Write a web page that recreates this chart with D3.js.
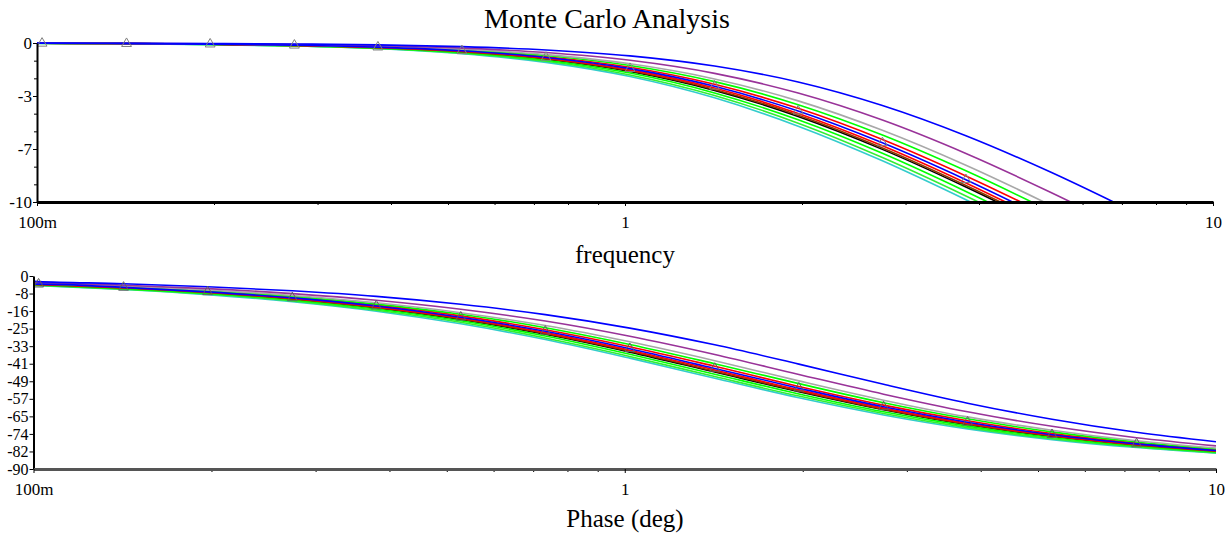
<!DOCTYPE html>
<html>
<head>
<meta charset="utf-8">
<script src="https://cdn.jsdelivr.net/npm/d3@7/dist/d3.min.js"></script>
<style>
  body { margin: 0; background: #fff; }
  text { font-family: "Liberation Serif", "Times New Roman", serif; fill: #000; }
</style>
</head>
<body>
<div id="plot"></div>
<script>
// sample frequencies (Hz), the same for every run
const freqs = [0.1, 0.102, 0.142, 0.197, 0.274, 0.380, 0.528, 0.734, 1.02, 1.42, 1.97, 2.74, 3.80, 5.28, 7.34, 10];

// magnitude (dB) per Monte Carlo run
const magBlueHi   = [-0.01, -0.01, -0.02, -0.03, -0.06, -0.12, -0.23, -0.44, -0.81, -1.45, -2.45, -3.93, -5.83, -8.10, -10.63, -13.13];
const magPurple   = [-0.01, -0.01, -0.02, -0.05, -0.09, -0.17, -0.32, -0.60, -1.09, -1.91, -3.15, -4.85, -6.95, -9.37, -11.98, -14.54];
const magGray     = [-0.01, -0.02, -0.03, -0.06, -0.11, -0.21, -0.39, -0.73, -1.31, -2.26, -3.64, -5.49, -7.69, -10.18, -12.84, -15.42];
const magGreenHi  = [-0.02, -0.02, -0.03, -0.06, -0.12, -0.23, -0.43, -0.79, -1.42, -2.43, -3.88, -5.79, -8.04, -10.56, -13.23, -15.82];
const magRedHi    = [-0.02, -0.02, -0.04, -0.07, -0.13, -0.25, -0.47, -0.86, -1.53, -2.60, -4.11, -6.07, -8.36, -10.90, -13.59, -16.19];
const magBlueNom  = [-0.02, -0.02, -0.04, -0.07, -0.14, -0.26, -0.49, -0.91, -1.61, -2.72, -4.28, -6.28, -8.60, -11.16, -13.86, -16.46];
const magRedLo    = [-0.02, -0.02, -0.04, -0.08, -0.15, -0.28, -0.52, -0.96, -1.69, -2.83, -4.43, -6.46, -8.80, -11.38, -14.08, -16.69];
const magBrown    = [-0.02, -0.02, -0.04, -0.08, -0.15, -0.29, -0.54, -0.99, -1.75, -2.92, -4.54, -6.60, -8.96, -11.54, -14.25, -16.86];
const magBlack    = [-0.02, -0.02, -0.04, -0.08, -0.16, -0.30, -0.56, -1.02, -1.79, -2.98, -4.62, -6.69, -9.06, -11.65, -14.37, -16.98];
const magGreenMid = [-0.02, -0.02, -0.05, -0.09, -0.17, -0.32, -0.59, -1.08, -1.89, -3.14, -4.83, -6.94, -9.34, -11.94, -14.67, -17.28];
const magGreenLo  = [-0.02, -0.03, -0.05, -0.09, -0.18, -0.34, -0.64, -1.15, -2.01, -3.30, -5.04, -7.20, -9.62, -12.24, -14.98, -17.60];
const magCyan     = [-0.03, -0.03, -0.05, -0.10, -0.19, -0.36, -0.67, -1.22, -2.11, -3.45, -5.23, -7.41, -9.86, -12.49, -15.23, -17.86];

// phase (deg) per Monte Carlo run
const phaseBlueHi   = [-2.5, -2.6, -3.6, -5.0, -6.9, -9.5, -13.2, -18.0, -24.3, -32.1, -41.1, -50.5, -59.3, -66.8, -72.9, -77.3];
const phasePurple   = [-3.0, -3.1, -4.3, -5.9, -8.2, -11.3, -15.5, -21.0, -28.1, -36.6, -45.9, -55.1, -63.3, -70.1, -75.4, -79.2];
const phaseGray     = [-3.3, -3.4, -4.7, -6.5, -9.1, -12.5, -17.1, -23.1, -30.7, -39.5, -48.9, -57.9, -65.7, -71.9, -76.8, -80.2];
const phaseGreenHi  = [-3.5, -3.6, -5.0, -6.9, -9.5, -13.1, -17.8, -24.1, -31.9, -40.9, -50.2, -59.1, -66.6, -72.7, -77.4, -80.7];
const phaseRedHi    = [-3.6, -3.7, -5.2, -7.2, -9.9, -13.6, -18.6, -25.1, -33.0, -42.1, -51.5, -60.2, -67.5, -73.5, -77.9, -81.1];
const phaseBlueNom  = [-3.8, -3.8, -5.3, -7.4, -10.2, -14.0, -19.2, -25.8, -33.9, -43.1, -52.3, -61.0, -68.2, -74.0, -78.3, -81.4];
const phaseRedLo    = [-3.9, -3.9, -5.5, -7.6, -10.5, -14.4, -19.6, -26.4, -34.6, -43.8, -53.1, -61.6, -68.7, -74.3, -78.6, -81.6];
const phaseBrown    = [-3.9, -4.0, -5.6, -7.7, -10.7, -14.7, -20.0, -26.8, -35.1, -44.4, -53.6, -62.1, -69.1, -74.6, -78.8, -81.7];
const phaseBlack    = [-4.0, -4.1, -5.7, -7.8, -10.9, -14.9, -20.3, -27.2, -35.5, -44.8, -54.0, -62.4, -69.4, -74.8, -79.0, -81.9];
const phaseGreenMid = [-4.1, -4.2, -5.9, -8.1, -11.2, -15.4, -20.9, -28.0, -36.5, -45.8, -55.0, -63.3, -70.0, -75.3, -79.3, -82.1];
const phaseGreenLo  = [-4.3, -4.4, -6.1, -8.4, -11.6, -16.0, -21.6, -28.9, -37.5, -46.9, -56.0, -64.1, -70.7, -75.9, -79.7, -82.4];
const phaseCyan     = [-4.4, -4.5, -6.3, -8.7, -12.0, -16.4, -22.3, -29.6, -38.3, -47.7, -56.8, -64.8, -71.3, -76.3, -80.0, -82.6];

// tick labels
const xTickValues = [0.1, 1, 10];
const xTickLabels = ["100m", "1", "10"];
const magTickLabels = ["-10", "-7", "-3", "0"];
const phaseTickLabels = ["-90", "-82", "-74", "-65", "-57", "-49", "-41", "-33", "-25", "-16", "-8", "0"];

const w = 1225;
const h = 535;
const serif = '"Liberation Serif", "Times New Roman", serif';

const series = [
  {color: "#000000", mag: magBlack, phase: phaseBlack},
  {color: "#33cccc", mag: magCyan, phase: phaseCyan},
  {color: "#33ee33", mag: magGreenLo, phase: phaseGreenLo},
  {color: "#00ff00", mag: magGreenMid, phase: phaseGreenMid},
  {color: "#8b3a00", mag: magBrown, phase: phaseBrown},
  {color: "#ff0000", mag: magRedLo, phase: phaseRedLo},
  {color: "#ff0000", mag: magRedHi, phase: phaseRedHi},
  {color: "#00ff00", mag: magGreenHi, phase: phaseGreenHi},
  {color: "#a8a8a8", mag: magGray, phase: phaseGray},
  {color: "#993399", mag: magPurple, phase: phasePurple},
  {color: "#0000ff", mag: magBlueHi, phase: phaseBlueHi},
  {color: "#0000ff", mag: magBlueNom, phase: phaseBlueNom, marks: true}
];

const xMinor = [];
[0.1, 1].forEach(dec => d3.range(2, 10).forEach(k => xMinor.push(dec * k)));

const svg = d3.select("#plot")
    .append("svg")
    .attr("width", w)
    .attr("height", h);

svg.append("rect")
    .attr("width", w)
    .attr("height", h)
    .attr("fill", "white");

const defs = svg.append("defs");

function panel(opt) {
  const x = d3.scaleLog().domain([0.1, 10]).range(opt.xr);
  const y = d3.scaleLinear().domain(opt.yd).range(opt.yr);

  defs.append("clipPath")
      .attr("id", opt.key + "clip")
    .append("rect")
      .attr("x", opt.xr[0])
      .attr("y", opt.yr[1] - 8)
      .attr("width", opt.xr[1] - opt.xr[0])
      .attr("height", opt.yr[0] - opt.yr[1] + 8);

  const line = d3.line()
      .x(d => x(d.f))
      .y(d => y(d.v))
      .curve(d3.curveMonotoneX);

  const g = svg.append("g").attr("clip-path", `url(#${opt.key}clip)`);

  series.forEach(s => {
    const pts = freqs.map((f, i) => ({f: f, v: s[opt.key][i]}));
    g.append("path")
        .attr("d", line(pts))
        .attr("fill", "none")
        .attr("stroke", s.color)
        .attr("stroke-width", 1.6);
    if (s.marks) {
      g.selectAll(null)
          .data(pts.slice(1, pts.length - 1))
          .enter().append("path")
          .attr("d", d3.symbol(d3.symbolTriangle, 42))
          .attr("transform", d => `translate(${x(d.f)},${y(d.v)})`)
          .attr("fill", "none")
          .attr("stroke", opt.markColor)
          .attr("stroke-width", 1);
    }
  });

  // minor y ticks
  if (opt.yMinor) {
    svg.append("g")
        .attr("transform", `translate(${opt.xr[0]},0)`)
        .call(d3.axisLeft(y).tickValues(opt.yMinor).tickSize(3).tickFormat(""))
        .call(a => a.select(".domain").remove());
  }

  // y axis
  const yAxis = svg.append("g")
      .attr("transform", `translate(${opt.xr[0]},0)`)
      .call(d3.axisLeft(y)
          .tickValues(opt.yTicks)
          .tickSize(4)
          .tickSizeOuter(0)
          .tickPadding(1)
          .tickFormat((d, i) => opt.yLabels[i]));
  yAxis.select(".domain").attr("stroke-width", 2);
  yAxis.selectAll("text")
      .style("font-family", serif)
      .style("font-size", opt.yFont + "px");

  // x minor ticks
  svg.append("g")
      .attr("transform", `translate(0,${opt.yr[0]})`)
      .call(d3.axisBottom(x).tickValues(xMinor).tickSize(3).tickFormat(""))
      .call(a => a.select(".domain").remove());

  // x axis
  const xAxis = svg.append("g")
      .attr("transform", `translate(0,${opt.yr[0]})`)
      .call(d3.axisBottom(x)
          .tickValues(xTickValues)
          .tickSize(4)
          .tickSizeOuter(0)
          .tickPadding(10)
          .tickFormat((d, i) => xTickLabels[i]));
  xAxis.select(".domain")
      .attr("stroke", opt.xColor)
      .attr("stroke-width", 3);
  xAxis.selectAll("text")
      .style("font-family", serif)
      .style("font-size", "17px");
}

panel({
  key: "mag",
  xr: [37, 1213],
  yd: [-10, 0],
  yr: [202, 43],
  yTicks: d3.range(4).map(i => -10 + i * 10 / 3),
  yLabels: magTickLabels,
  yMinor: d3.range(10).map(i => -10 + i * 10 / 9),
  yFont: 17,
  xColor: "#000",
  markColor: "#808080"
});

panel({
  key: "phase",
  xr: [33.5, 1216],
  yd: [-90, 0],
  yr: [469, 276],
  yTicks: d3.range(12).map(i => -90 + i * 90 / 11),
  yLabels: phaseTickLabels,
  yMinor: null,
  yFont: 16,
  xColor: "#555",
  markColor: "#606060"
});

svg.append("text")
    .attr("x", 607)
    .attr("y", 28)
    .attr("text-anchor", "middle")
    .style("font-size", "28px")
    .text("Monte Carlo Analysis");

svg.append("text")
    .attr("x", 625)
    .attr("y", 263)
    .attr("text-anchor", "middle")
    .style("font-size", "25px")
    .text("frequency");

svg.append("text")
    .attr("x", 625)
    .attr("y", 527)
    .attr("text-anchor", "middle")
    .style("font-size", "25px")
    .text("Phase (deg)");
</script>
</body>
</html>
